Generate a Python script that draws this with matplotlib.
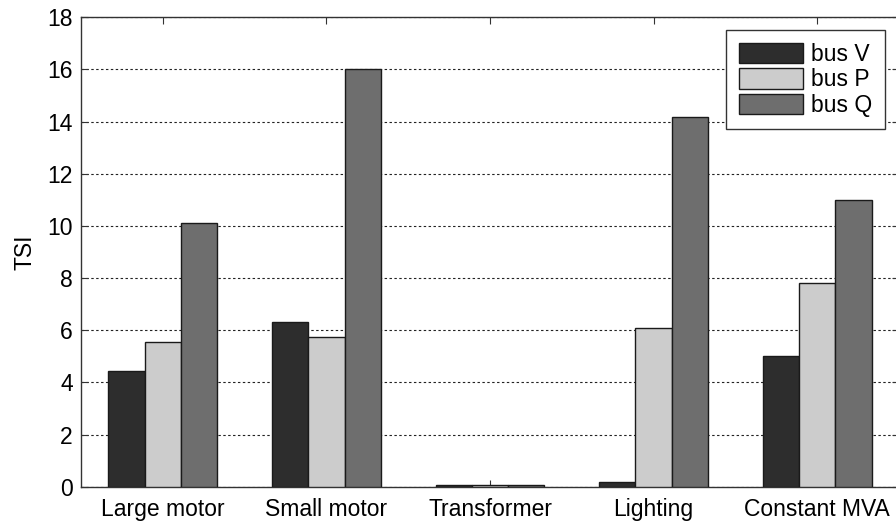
import matplotlib
matplotlib.use("Agg")
import matplotlib.pyplot as plt
import numpy as np

categories = ["Large motor", "Small motor", "Transformer", "Lighting", "Constant MVA"]
bus_v = [4.44, 6.31, 0.05, 0.18, 5.01]
bus_p = [5.55, 5.74, 0.05, 6.08, 7.80]
bus_q = [10.12, 16.02, 0.05, 14.18, 11.00]
series_names = ["bus V", "bus P", "bus Q"]
y_ticks = [0, 2, 4, 6, 8, 10, 12, 14, 16, 18]

plt.rcParams["font.family"] = ["Liberation Sans", "DejaVu Sans"]
FS = 16.5

fig = plt.figure(figsize=(8.96, 5.25), dpi=100)
ax = fig.add_axes([81 / 896, 1 - 486.7 / 525, (899 - 81) / 896, (486.7 - 17.3) / 525])

x = np.arange(1, len(categories) + 1)
w = 0.222
colors = ["#2d2d2d", "#cccccc", "#6e6e6e"]
for i, (vals, name, c) in enumerate(zip([bus_v, bus_p, bus_q], series_names, colors)):
    ax.bar(x + (i - 1) * w, vals, width=w, color=c, edgecolor="#1a1a1a",
           linewidth=1.0, label=name, zorder=3)

ax.set_xlim(0.5, 5.5)
ax.set_ylim(0, 18)
ax.set_yticks(y_ticks)
ax.set_xticks(x)
ax.set_xticklabels(categories)
ax.tick_params(axis="both", direction="in", length=5, labelsize=FS,
               top=True, right=True, width=0.8, color="#333333")
ax.tick_params(axis="x", pad=8)
ax.tick_params(axis="y", pad=6)
ax.set_ylabel("TSI", fontsize=FS, labelpad=8)

ax.yaxis.grid(True, linestyle=(0, (2.2, 2.2)), color="#222222", linewidth=0.8, zorder=0)
ax.set_axisbelow(True)
for s in ax.spines.values():
    s.set_color("#333333")
    s.set_linewidth(1.0)

leg = ax.legend(loc="upper right", bbox_to_anchor=(1 - 14 / 818, 1 - 13 / 469.4),
                borderaxespad=0, fontsize=FS, handlelength=2.8, handleheight=1.0,
                handletextpad=0.35, labelspacing=0.1, borderpad=0.55,
                fancybox=False, framealpha=1, edgecolor="#333333")
leg.get_frame().set_linewidth(1.0)

fig.savefig("out.png", dpi=100)
